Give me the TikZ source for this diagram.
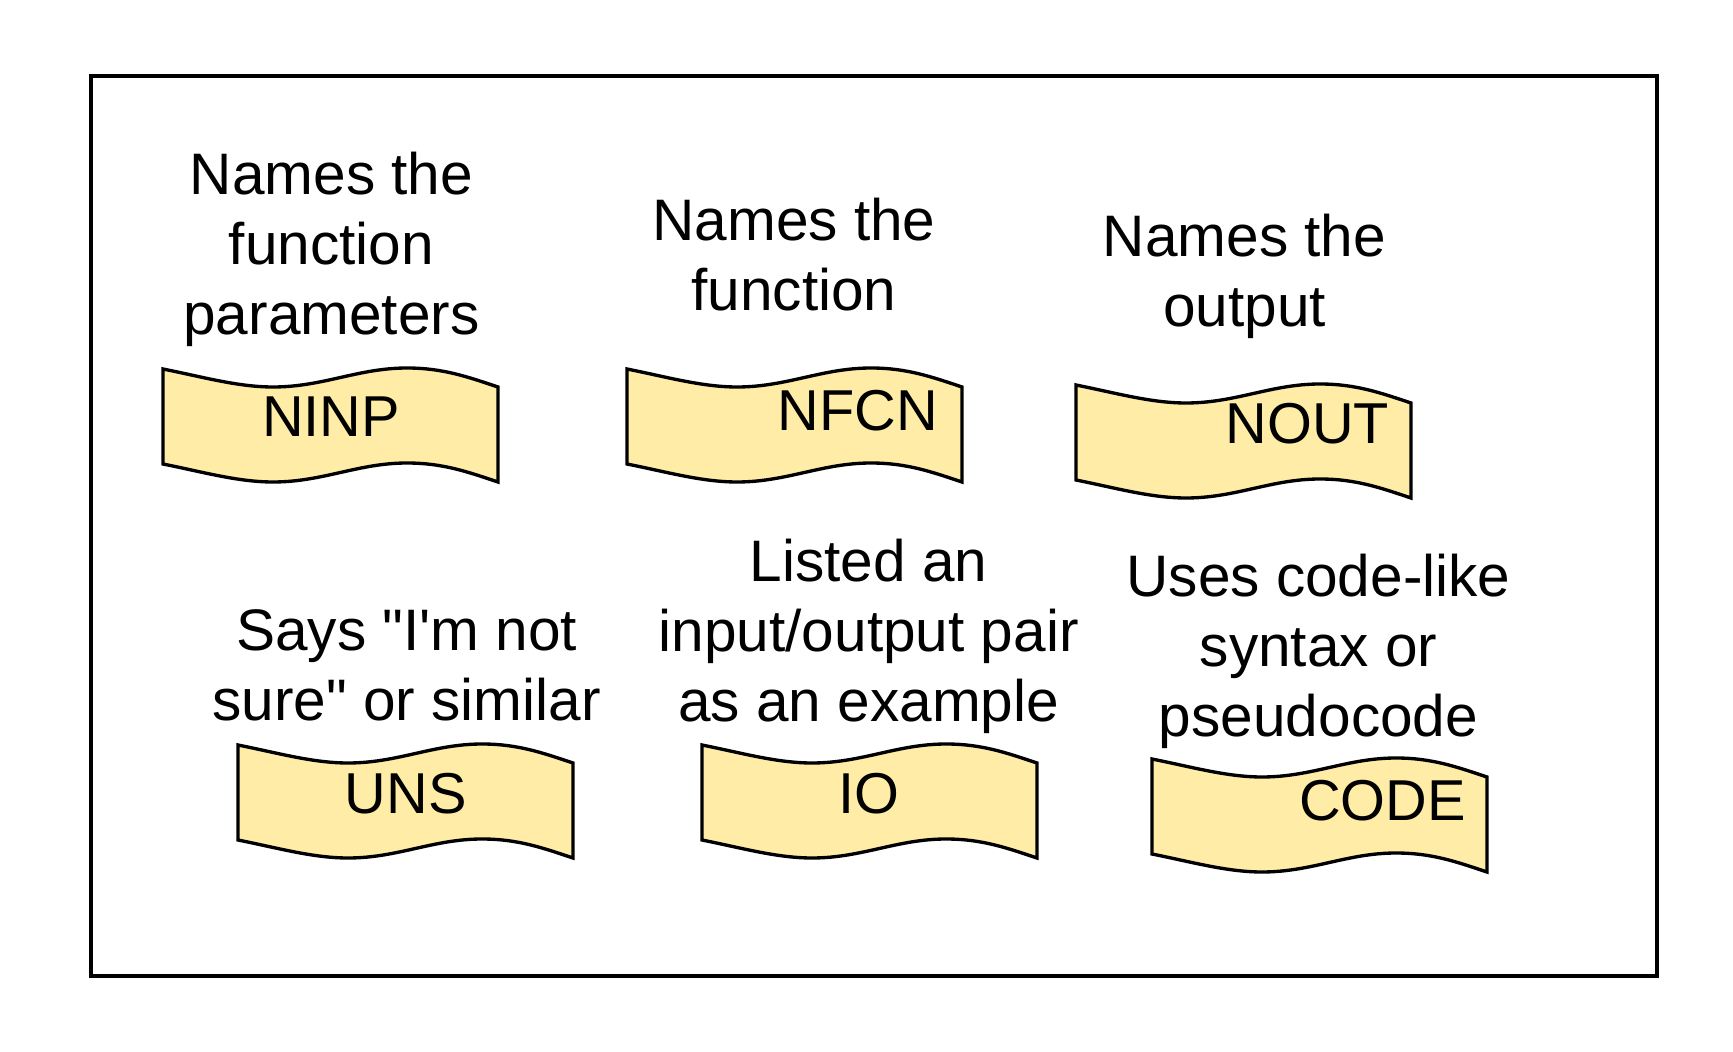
\documentclass[tikz,border=0pt]{standalone}
\usepackage{fontspec}
\setmainfont{Liberation Sans}[Ligatures=TeXOff]
\usetikzlibrary{positioning}
\definecolor{tapefill}{RGB}{255,236,166}
\tikzset{
	tapeline/.style={draw=black, line width=0.95pt, fill=tapefill},
	tapetext/.style={inner sep=0pt, anchor=center, font=\fontsize{16.4}{19}\selectfont},
	label/.style={inner sep=0pt, anchor=north, align=center, font=\fontsize{16.65}{19.92}\selectfont}
}
\def\tape(#1,#2){\begin{scope}[shift={(#1,#2)}]
	\draw[tapeline] (0,0) .. controls (40,8) and (75,18) .. (110,18)
	.. controls (160,18) and (195,-1) .. (244,-1)
	.. controls (280,-1) and (305,8) .. (335,18)
	-- (335,113)
	.. controls (305,103) and (280,94) .. (244,94)
	.. controls (195,94) and (160,113) .. (110,113)
	.. controls (75,113) and (40,103) .. (0,95) -- cycle;
\end{scope}}

\begin{document}
\begin{tikzpicture}[x=0.01cm, y=-0.01cm]
			%%%%% START %%%%%
			\useasboundingbox (0,0) rectangle (1733,1052);
			
			\draw[line width=1.13pt] (91.3,76.3) rectangle (1657,975.7);
			
			% top row
			\tape(163,369)
			\node[tapetext] (ninp) at (331,417) {NINP};
			\node[label] (lninp) at (331.5,151) {Names the\\function\\parameters};
			
			\tape(627,369)
			\node[tapetext] (nfcn) at (858,411) {NFCN};
			\node[label] (lnfcn) at (794,197.5) {Names the\\function};
			
			\tape(1076,385)
			\node[tapetext] (nout) at (1307.5,424) {NOUT};
			\node[label] (lnout) at (1244.5,213) {Names the\\output};
			
			% bottom row
			\tape(238,745)
			\node[tapetext] (uns) at (405.6,793.5) {UNS};
			\node[label] (luns) at (406.7,608.5) {Says "I'm not\\sure" or similar};
			
			\tape(702,745)
			\node[tapetext] (io) at (868.7,793.5) {IO};
			\node[label] (lio) at (868.7,538.5) {Listed an\\input/output pair\\as an example};
			
			\tape(1152,759)
			\node[tapetext] (code) at (1382.5,800.5) {CODE};
			\node[label] (lcode) at (1318.5,553.5) {Uses code-like\\syntax or\\pseudocode};
			
			%%%%% END %%%%%
		\end{tikzpicture}
\end{document}
